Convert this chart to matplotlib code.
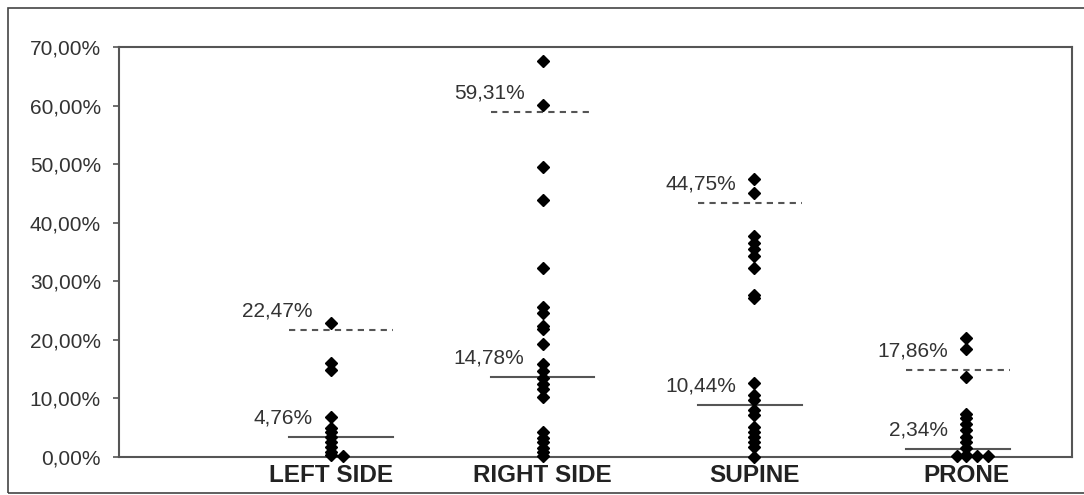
import numpy as np
import matplotlib
matplotlib.use("Agg")
import matplotlib.pyplot as plt
from matplotlib.patches import Rectangle

plt.rcParams["font.family"] = ["Liberation Sans", "DejaVu Sans"]

categories = ["LEFT SIDE", "RIGHT SIDE", "SUPINE", "PRONE"]

# individual values (%) per position
left_side = [22.9, 16.1, 14.9, 6.8, 5.0, 4.2, 3.4, 2.5, 1.7, 0.9, 0.3, 0.2]
right_side = [67.6, 60.1, 49.5, 43.9, 32.2, 25.6, 24.6, 22.4, 21.9, 19.3, 15.9,
              14.6, 13.5, 12.5, 11.6, 10.2, 4.2, 3.3, 2.5, 1.6, 0.8, 0.2]
supine = [47.5, 45.0, 37.8, 36.6, 35.5, 34.4, 32.3, 27.6, 27.1, 12.6, 10.6,
          9.7, 8.0, 7.1, 5.1, 4.3, 3.4, 2.5, 1.7, 0.0]
prone = [20.4, 18.5, 13.7, 7.4, 6.6, 5.7, 4.6, 3.4, 2.6, 1.5, 0.3, 0.2, 0.2, 0.2, 0.2]

# side-by-side jitter for overlapping points (category units)
left_jitter = [0] * 11 + [0.06]
right_jitter = [0] * 22
supine_jitter = [0] * 20
prone_jitter = [0] * 11 + [-0.045, 0, 0.05, 0.105]

# reference lines (upper dashed / lower solid) and their labels
upper_line = [21.7, 58.9, 43.4, 14.9]
lower_line = [3.4, 13.7, 8.9, 1.4]
upper_text = ["22,47%", "59,31%", "44,75%", "17,86%"]
lower_text = ["4,76%", "14,78%", "10,44%", "2,34%"]

series = [left_side, right_side, supine, prone]
jitters = [left_jitter, right_jitter, supine_jitter, prone_jitter]
line_shift = [0.05, 0.0, -0.02, -0.04]
half_width = 0.245

fig = plt.figure(figsize=(10.84, 4.95), dpi=100)
ax = fig.add_axes([119 / 1084, 1 - 457 / 495, (1072 - 119) / 1084, (457 - 47) / 495])

# outer chart frame (right edge runs off the picture)
fig.patches.append(Rectangle((8 / 1084, 2 / 495), 1.1, 1 - 10 / 495,
                             transform=fig.transFigure, fill=False,
                             edgecolor="#444444", linewidth=1.2))

text_col = "#333333"
for i, vals in enumerate(series):
    pos = i + 1
    xs = pos + np.array(jitters[i])
    ax.plot(xs, vals, "D", color="black", markersize=6, clip_on=False, zorder=3)

    c = pos + line_shift[i]
    ax.plot([c - half_width, c + half_width], [upper_line[i]] * 2,
            linestyle=(0, (3, 2.5)), color="#555555", linewidth=1.5, zorder=2)
    ax.plot([c - half_width, c + half_width], [lower_line[i]] * 2,
            linestyle="-", color="#555555", linewidth=1.5, zorder=2)

    ax.annotate(upper_text[i], (pos - 0.085, upper_line[i]), xytext=(0, 13.5),
                textcoords="offset points", ha="right", va="center",
                fontsize=15, color=text_col)
    ax.annotate(lower_text[i], (pos - 0.085, lower_line[i]), xytext=(0, 13.5),
                textcoords="offset points", ha="right", va="center",
                fontsize=15, color=text_col)

ax.set_xlim(0, 4.5)
ax.set_ylim(0, 70)
ax.set_yticks(np.arange(0, 71, 10))
ax.set_yticklabels([f"{v:.2f}".replace(".", ",") + "%" for v in np.arange(0, 71, 10)],
                   fontsize=15, color=text_col)
ax.set_xticks(np.arange(1, 5))
ax.set_xticklabels(categories, fontsize=17.5, fontweight="bold", color="#222222")
ax.tick_params(axis="x", length=0, pad=5)
ax.tick_params(axis="y", length=4, width=1.2, color="#555555", pad=9)
for s in ax.spines.values():
    s.set_color("#555555")
    s.set_linewidth(1.5)

fig.savefig("out.png", dpi=100)
